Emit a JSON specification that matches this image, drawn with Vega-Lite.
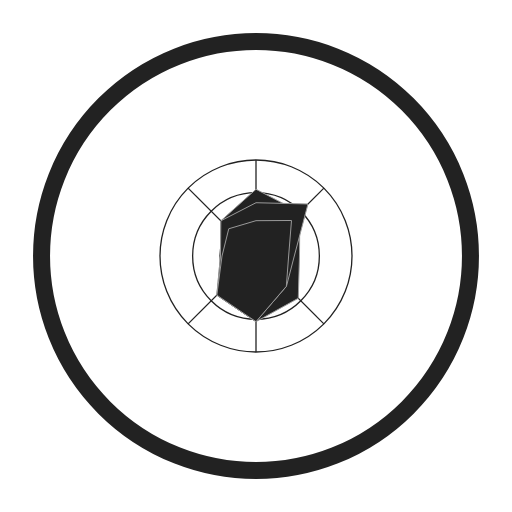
{
  "$schema": "https://vega.github.io/schema/vega-lite/v6.json",
  "width": 512,
  "height": 512,
  "autosize": {"type": "fit", "contains": "padding"},
  "padding": 0,
  "background": "white",
  "config": {"view": {"stroke": null}},
  "datasets": {
    "rings": [
      {"ring": "frame", "value": 223.4},
      {"ring": "inner", "value": 37.5},
      {"ring": "middle", "value": 66},
      {"ring": "outer", "value": 100}
    ],
    "spokes": [
      {"angle": 0, "r0": 0, "r1": 100},
      {"angle": 45, "r0": 0, "r1": 100},
      {"angle": 135, "r0": 0, "r1": 100},
      {"angle": 180, "r0": 0, "r1": 100},
      {"angle": 225, "r0": 0, "r1": 100},
      {"angle": 315, "r0": 0, "r1": 100}
    ],
    "polys": [
      {"series": "A", "angle": 0, "value": 69.5},
      {"series": "A", "angle": 45, "value": 64.6},
      {"series": "A", "angle": 90, "value": 45.3},
      {"series": "A", "angle": 135, "value": 62.3},
      {"series": "A", "angle": 180, "value": 68.4},
      {"series": "A", "angle": 225, "value": 57.7},
      {"series": "A", "angle": 270, "value": 37},
      {"series": "A", "angle": 315, "value": 51.8},
      {"series": "B", "angle": 0, "value": 55.5},
      {"series": "B", "angle": 45, "value": 76.6},
      {"series": "B", "angle": 90, "value": 39.9},
      {"series": "B", "angle": 135, "value": 44.8},
      {"series": "B", "angle": 180, "value": 68.4},
      {"series": "B", "angle": 225, "value": 57.7},
      {"series": "B", "angle": 270, "value": 37},
      {"series": "B", "angle": 315, "value": 51.8},
      {"series": "C", "angle": 0, "value": 36.8},
      {"series": "C", "angle": 45, "value": 52.3},
      {"series": "C", "angle": 90, "value": 34},
      {"series": "C", "angle": 135, "value": 44.7},
      {"series": "C", "angle": 180, "value": 68.4},
      {"series": "C", "angle": 225, "value": 57.7},
      {"series": "C", "angle": 270, "value": 35.4},
      {"series": "C", "angle": 315, "value": 40.1}
    ]
  },
  "layer": [
    {
      "data": {"name": "rings"},
      "transform": [{"filter": "datum.ring == 'frame'"}],
      "mark": {"type": "point", "shape": "circle", "filled": false, "stroke": "#222222", "strokeWidth": 17, "opacity": 1},
      "encoding": {
        "x": {"datum": 0, "type": "quantitative", "scale": {"domain": [-266.667, 266.667], "nice": false, "zero": false}, "axis": null},
        "y": {"datum": 0, "type": "quantitative", "scale": {"domain": [-266.667, 266.667], "nice": false, "zero": false}, "axis": null},
        "size": {"field": "value", "type": "quantitative", "scale": {"type": "pow", "exponent": 2, "domain": [0, 250], "range": [0, 230400]}, "legend": null}
      }
    },
    {
      "data": {"name": "rings"},
      "transform": [{"filter": "datum.ring != 'frame'"}],
      "mark": {"type": "point", "shape": "circle", "filled": false, "stroke": "#222222", "strokeWidth": 1.3, "opacity": 1},
      "encoding": {
        "x": {"datum": 0, "type": "quantitative", "scale": {"domain": [-266.667, 266.667], "nice": false, "zero": false}, "axis": null},
        "y": {"datum": 0, "type": "quantitative", "scale": {"domain": [-266.667, 266.667], "nice": false, "zero": false}, "axis": null},
        "size": {"field": "value", "type": "quantitative", "scale": {"type": "pow", "exponent": 2, "domain": [0, 250], "range": [0, 230400]}, "legend": null}
      }
    },
    {
      "data": {"name": "spokes"},
      "transform": [
        {"calculate": "datum.r0 * sin(datum.angle * PI / 180)", "as": "sx"},
        {"calculate": "datum.r0 * cos(datum.angle * PI / 180)", "as": "sy"},
        {"calculate": "datum.r1 * sin(datum.angle * PI / 180)", "as": "ex"},
        {"calculate": "datum.r1 * cos(datum.angle * PI / 180)", "as": "ey"}
      ],
      "mark": {"type": "rule", "stroke": "#222222", "strokeWidth": 1.3},
      "encoding": {
        "x": {"field": "sx", "type": "quantitative", "scale": {"domain": [-266.667, 266.667], "nice": false, "zero": false}, "axis": null},
        "y": {"field": "sy", "type": "quantitative", "scale": {"domain": [-266.667, 266.667], "nice": false, "zero": false}, "axis": null},
        "x2": {"field": "ex"},
        "y2": {"field": "ey"}
      }
    },
    {
      "data": {"name": "polys"},
      "transform": [
        {"filter": "datum.series == 'A'"},
        {"calculate": "datum.value * sin(datum.angle * PI / 180)", "as": "px"},
        {"calculate": "datum.value * cos(datum.angle * PI / 180)", "as": "py"}
      ],
      "mark": {"type": "line", "interpolate": "linear-closed", "fill": "#222222", "stroke": "#9a9a9a", "strokeWidth": 1},
      "encoding": {
        "x": {"field": "px", "type": "quantitative", "scale": {"domain": [-266.667, 266.667], "nice": false, "zero": false}, "axis": null},
        "y": {"field": "py", "type": "quantitative", "scale": {"domain": [-266.667, 266.667], "nice": false, "zero": false}, "axis": null},
        "order": {"field": "angle", "type": "quantitative"}
      }
    },
    {
      "data": {"name": "polys"},
      "transform": [
        {"filter": "datum.series == 'B'"},
        {"calculate": "datum.value * sin(datum.angle * PI / 180)", "as": "px"},
        {"calculate": "datum.value * cos(datum.angle * PI / 180)", "as": "py"}
      ],
      "mark": {"type": "line", "interpolate": "linear-closed", "fill": "#222222", "stroke": "#9a9a9a", "strokeWidth": 1},
      "encoding": {
        "x": {"field": "px", "type": "quantitative", "scale": {"domain": [-266.667, 266.667], "nice": false, "zero": false}, "axis": null},
        "y": {"field": "py", "type": "quantitative", "scale": {"domain": [-266.667, 266.667], "nice": false, "zero": false}, "axis": null},
        "order": {"field": "angle", "type": "quantitative"}
      }
    },
    {
      "data": {"name": "polys"},
      "transform": [
        {"filter": "datum.series == 'C'"},
        {"calculate": "datum.value * sin(datum.angle * PI / 180)", "as": "px"},
        {"calculate": "datum.value * cos(datum.angle * PI / 180)", "as": "py"}
      ],
      "mark": {"type": "line", "interpolate": "linear-closed", "fill": "#222222", "stroke": "#9a9a9a", "strokeWidth": 1},
      "encoding": {
        "x": {"field": "px", "type": "quantitative", "scale": {"domain": [-266.667, 266.667], "nice": false, "zero": false}, "axis": null},
        "y": {"field": "py", "type": "quantitative", "scale": {"domain": [-266.667, 266.667], "nice": false, "zero": false}, "axis": null},
        "order": {"field": "angle", "type": "quantitative"}
      }
    }
  ]
}
